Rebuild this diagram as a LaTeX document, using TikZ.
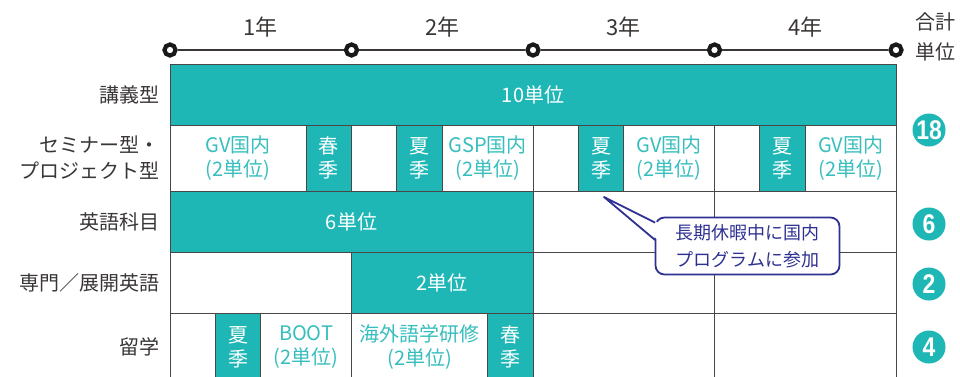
\documentclass[tikz,border=0pt]{standalone}
\usepackage{fontspec}
\setmainfont{Noto Sans CJK JP}
\newfontfamily\numfont{Liberation Sans}
\usetikzlibrary{calc}

\definecolor{tealc}{HTML}{1FB6B6}
\definecolor{tealtext}{HTML}{38BEBE}
\definecolor{gridc}{HTML}{4A4646}
\definecolor{labelc}{HTML}{3A3636}
\definecolor{navyc}{HTML}{2E3192}

% one box of the grid: name, style, x1, x2, y1, y2, text
\newcommand{\cellnode}[7]{%
  \node[#2, minimum width={#4-#3}, minimum height={#6-#5}] (#1)
    at ({(#3+#4)/2},{(#5+#6)/2}) {#7};}

\begin{document}
\begin{tikzpicture}[
            x = 1pt, y = -1pt, % pixel grid, y downwards
            year/.style = {font=\fontsize{22}{26}\selectfont, text=labelc},
            tick/.style = {circle, draw=black!90, line width=4.2pt, fill=white,
                           minimum size=11pt, inner sep=0pt},
            axisline/.style = {draw=labelc, line width=1.4pt},
            rowlabel/.style = {anchor=east, align=right, text=labelc,
                               font=\fontsize{20}{26}\selectfont},
            cellbase/.style = {draw=gridc, line width=0.9pt, inner sep=0pt,
                               outer sep=0pt, align=center,
                               font=\fontsize{20}{24}\selectfont},
            tealcell/.style = {cellbase, fill=tealc, text=white},
            whitecell/.style = {cellbase, fill=white, text=tealtext},
            total/.style = {circle, fill=tealc, text=white, minimum size=33pt,
                            inner sep=0pt, font=\numfont\bfseries\fontsize{27}{27}\selectfont},
            note/.style = {draw=navyc, line width=1.8pt, rounded corners=9pt,
                           fill=white, text=navyc, minimum width=184pt,
                           minimum height=57pt, inner sep=0pt, align=center,
                           font=\fontsize{18}{27}\selectfont}
        ]

        \useasboundingbox (0,0) rectangle (960,376);
        \clip (0,0) rectangle (960,376);

        % time axis
        \foreach \x [count=\i from 0] in {170,351.5,533,714.5,896}
            \node[tick] (t\i) at (\x,50) {};
        \draw[axisline] (t0) -- (t1) -- (t2) -- (t3) -- (t4);

        \foreach \x/\n in {260.75/1, 442.25/2, 623.75/3, 805.25/4}
            \node[year] (yr\n) at (\x,27) {\n{}年};

        \node[anchor=west, align=left, text=labelc,
              font=\fontsize{20}{30}\selectfont] (head) at (912,37) {合計\\単位};

        % lecture row
        \cellnode{lec}{tealcell}{170}{896}{64}{125}{10単位}

        % seminar / project row
        \cellnode{sem1}{whitecell}{170}{306.1}{125}{191}{GV国内\\(2単位)}
        \cellnode{sem2}{tealcell}{306.1}{351.5}{125}{191}{春\\季}
        \cellnode{sem3}{whitecell}{351.5}{396.9}{125}{191}{}
        \cellnode{sem4}{tealcell}{396.9}{442.25}{125}{191}{夏\\季}
        \cellnode{sem5}{whitecell}{442.25}{533}{125}{191}{GSP国内\\(2単位)}
        \cellnode{sem6}{whitecell}{533}{578.4}{125}{191}{}
        \cellnode{sem7}{tealcell}{578.4}{623.75}{125}{191}{夏\\季}
        \cellnode{sem8}{whitecell}{623.75}{714.5}{125}{191}{GV国内\\(2単位)}
        \cellnode{sem9}{whitecell}{714.5}{759.9}{125}{191}{}
        \cellnode{sem10}{tealcell}{759.9}{805.25}{125}{191}{夏\\季}
        \cellnode{sem11}{whitecell}{805.25}{896}{125}{191}{GV国内\\(2単位)}

        % english row
        \cellnode{eng1}{tealcell}{170}{533}{191}{252}{6単位}
        \cellnode{eng2}{whitecell}{533}{714.5}{191}{252}{}
        \cellnode{eng3}{whitecell}{714.5}{896}{191}{252}{}

        % special english row
        \cellnode{spec1}{whitecell}{170}{351.5}{252}{313}{}
        \cellnode{spec2}{tealcell}{351.5}{533}{252}{313}{2単位}
        \cellnode{spec3}{whitecell}{533}{714.5}{252}{313}{}
        \cellnode{spec4}{whitecell}{714.5}{896}{252}{313}{}

        % study abroad row
        \cellnode{abr1}{whitecell}{170}{215.4}{313}{381}{}
        \cellnode{abr2}{tealcell}{215.4}{260.75}{313}{381}{夏\\季}
        \cellnode{abr3}{whitecell}{260.75}{351.5}{313}{381}{BOOT\\(2単位)}
        \cellnode{abr4}{whitecell}{351.5}{487.6}{313}{381}{海外語学研修\\(2単位)}
        \cellnode{abr5}{tealcell}{487.6}{533}{313}{381}{春\\季}
        \cellnode{abr6}{whitecell}{533}{714.5}{313}{381}{}
        \cellnode{abr7}{whitecell}{714.5}{896}{313}{381}{}

        % row names
        \node[rowlabel] (lblLec) at (163,94.5) {講義型};
        \node[rowlabel] (lblSem) at (163,158) {セミナー型・\\プロジェクト型};
        \node[rowlabel] (lblEng) at (163,221.5) {英語科目};
        \node[rowlabel] (lblSpec) at (163,282.5) {専門／展開英語};
        \node[rowlabel] (lblAbr) at (163,347) {留学};

        % credit totals
        \node[total] (tot18) at (929,130) {\scalebox{0.85}[1]{18}};
        \node[total] (tot6) at (929,224) {\scalebox{0.85}[1]{6}};
        \node[total] (tot2) at (929,284) {\scalebox{0.85}[1]{2}};
        \node[total] (tot4) at (929,347) {\scalebox{0.85}[1]{4}};

        % callout
        \node[note] (callout) at (747.5,246) {長期休暇中に国内\\プログラムに参加};
        \coordinate (tip) at (604,197);
        \coordinate (wa) at ($(callout.north west)+(0.5,6)$);
        \coordinate (wb) at ($(callout.west)+(0.5,-6)$);
        \fill[white] ($(wa)+(3,0)$) -- (tip) -- ($(wb)+(3,0)$) -- cycle;
        \draw[navyc, line width=1.8pt, line join=round] (wa) -- (tip) -- (wb);

\end{tikzpicture}
\end{document}
